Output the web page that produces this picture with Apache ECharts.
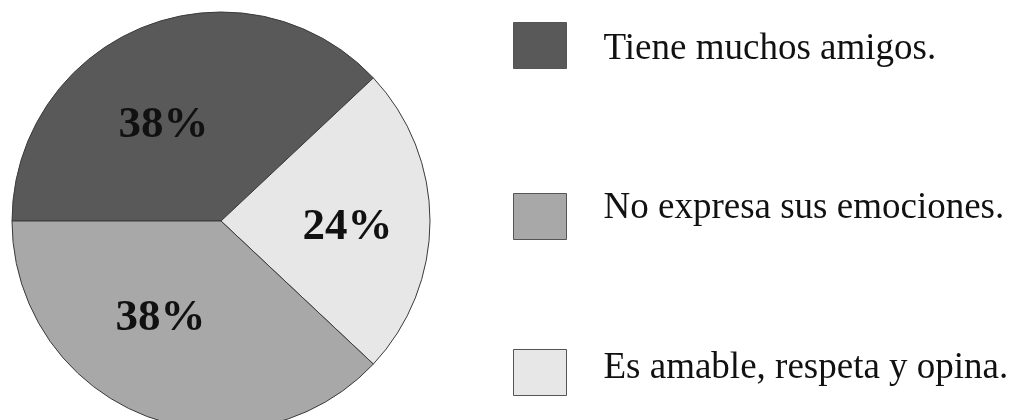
<!DOCTYPE html>
<html>
<head>
<meta charset="utf-8">
<script src="https://cdn.jsdelivr.net/npm/echarts@6/dist/echarts.min.js"></script>
<style>
  html, body { margin: 0; padding: 0; background: #fff; }
  #chart { width: 1012px; height: 420px; }
</style>
</head>
<body>
<div id="chart"></div>
<script>
// slices in drawing order (clockwise from 9 o'clock)
const sliceNames = ["Tiene muchos amigos.", "Es amable, respeta y opina.", "No expresa sus emociones."];
const sliceValues = [38, 24, 38];
const sliceColors = ["#595959", "#e7e7e7", "#a8a8a8"];
const labelOffsets = [[-18, 4], [19, 6], [-21, -3]];
// legend order as shown
const legendNames = ["Tiene muchos amigos.", "No expresa sus emociones.", "Es amable, respeta y opina."];
const legendTops = [17, 185, 344];
const legendTextPad = [[8, 0, 0, 32], [0, 0, 16, 32], [0, 0, 8, 32]];

let chartDom = document.getElementById("chart");
let myChart = echarts.init(chartDom);

let legends = legendNames.map((name, i) => {
  return {
    data: [name],
    left: 508,
    top: legendTops[i],
    orient: "vertical",
    itemWidth: 53,
    itemHeight: 46,
    icon: "rect",
    selectedMode: false,
    itemStyle: { borderColor: "#555", borderWidth: 1 },
    formatter: "{t|{name}}",
    textStyle: {
      rich: {
        t: {
          fontFamily: "Liberation Serif",
          fontSize: 37,
          color: "#111",
          padding: legendTextPad[i],
        },
      },
    },
  };
});

let option = {
  animation: false,
  legend: legends,
  series: [
    {
      type: "pie",
      center: [221, 221],
      radius: 209,
      startAngle: 180,
      clockwise: true,
      silent: true,
      itemStyle: { borderColor: "#3a3a3a", borderWidth: 1 },
      label: {
        show: true,
        position: "inside",
        formatter: "{c}%",
        fontFamily: "Liberation Serif",
        fontWeight: "bold",
        fontSize: 45,
        color: "#111",
      },
      labelLine: { show: false },
      data: sliceNames.map((name, i) => {
        return {
          name: name,
          value: sliceValues[i],
          itemStyle: { color: sliceColors[i] },
          label: { offset: labelOffsets[i] },
        };
      }),
    },
  ],
};
myChart.setOption(option);
</script>
</body>
</html>
